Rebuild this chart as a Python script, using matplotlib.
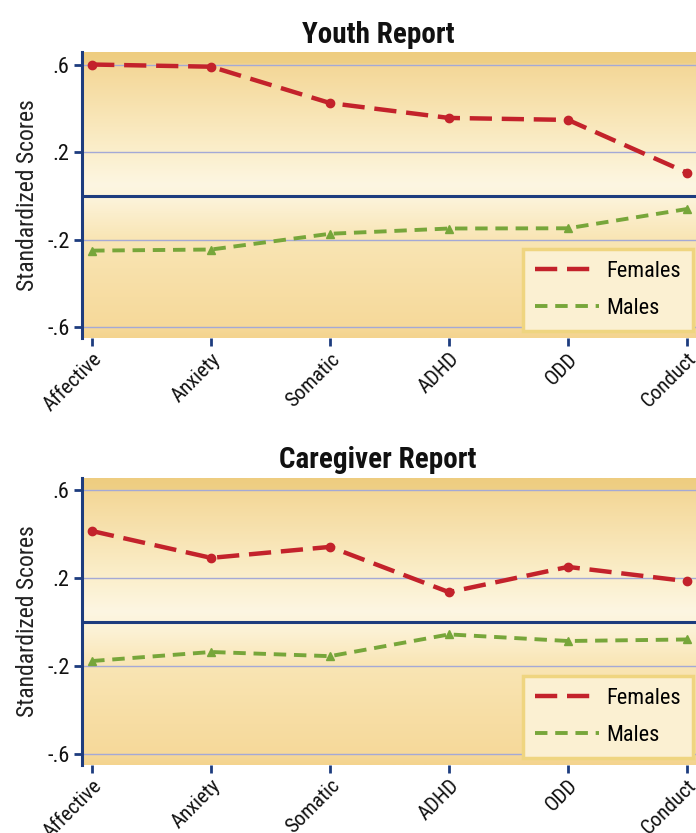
import numpy as np
import matplotlib
matplotlib.use("Agg")
import matplotlib.pyplot as plt
from matplotlib.colors import LinearSegmentedColormap
from matplotlib import font_manager

# look for a narrow font, fall back to something narrow-ish
names = set(f.name for f in font_manager.fontManager.ttflist)
narrow = [n for n in ['Liberation Sans Narrow', 'Roboto Condensed', 'Open Sans Condensed',
                      'Noto Sans Display', 'DejaVu Sans'] if n in names]
plt.rcParams['font.family'] = narrow + ['DejaVu Sans']
plt.rcParams['font.stretch'] = 'condensed'

categories = ['Affective', 'Anxiety', 'Somatic', 'ADHD', 'ODD', 'Conduct']
yticks = [0.6, 0.2, -0.2, -0.6]
ytick_labels = ['.6', '.2', '-.2', '-.6']

youth_females = [0.60, 0.59, 0.424, 0.356, 0.347, 0.106]
youth_males = [-0.25, -0.245, -0.173, -0.149, -0.148, -0.06]

care_females = [0.414, 0.292, 0.342, 0.136, 0.251, 0.186]
care_males = [-0.177, -0.136, -0.155, -0.056, -0.086, -0.079]

navy = '#1d3c7e'
red = '#c3222b'
green = '#77a63a'

bg = LinearSegmentedColormap.from_list('bg', [
    (0.0, '#f4d48f'), (0.038, '#f6d99a'), (0.345, '#f9e5b4'),
    (0.483, '#fcf3d9'), (0.536, '#fdf6e2'), (0.651, '#fbefcc'),
    (0.958, '#f4d797'), (0.965, '#efcf85'), (1.0, '#eecd80')])

fig = plt.figure(figsize=(6.96, 8.33), dpi=100)


def panel(rect, title, fem, mal):
    ax = fig.add_axes(rect)
    x = np.arange(len(categories))
    ylo, yhi = -0.65, 0.655
    ax.set_xlim(-0.084, 5.076)
    ax.set_ylim(ylo, yhi)
    grad = np.linspace(ylo, yhi, 400).reshape(-1, 1)
    ax.imshow(grad, cmap=bg, origin='lower', aspect='auto',
              extent=(-0.084, 5.076, ylo, yhi), zorder=0)
    for t in yticks:
        ax.axhline(t, color='#a4a9d6', lw=1, zorder=1)
    ax.axhline(0, color=navy, lw=2.2, zorder=2)
    ax.plot(x, fem, color=red, lw=3.2, dashes=(5, 2.2), marker='o', ms=6,
            label='Females', zorder=4)
    ax.plot(x, mal, color=green, lw=2.8, dashes=(3.2, 2), marker='^', ms=6,
            label='Males', zorder=3)
    for s in ['top', 'right', 'bottom']:
        ax.spines[s].set_visible(False)
    ax.spines['left'].set_color(navy)
    ax.spines['left'].set_linewidth(2.2)
    ax.set_yticks(yticks)
    ax.set_yticklabels(ytick_labels, fontsize=16)
    ax.set_xticks(x)
    ax.set_xticklabels(categories, rotation=45, ha='right',
                       rotation_mode='anchor', fontsize=15)
    ax.tick_params(axis='both', colors=navy, width=2, length=6,
                   direction='out', labelcolor='#111111')
    ax.tick_params(axis='x', pad=2)
    ax.tick_params(axis='y', pad=3)
    ax.set_ylabel('Standardized Scores', fontsize=17, color='#222222',
                  labelpad=6)
    ax.set_title(title, fontsize=21, fontweight='bold', pad=7,
                 x=0.482, color='#111111')
    leg = ax.legend(loc='lower right', bbox_to_anchor=(0.995, 0.025),
                    fontsize=16, handlelength=2.9, handletextpad=0.3,
                    fancybox=False, framealpha=1, borderpad=0.55,
                    labelspacing=0.7, borderaxespad=0)
    for h in leg.legend_handles:
        h.set_marker('')
    leg.get_frame().set_facecolor('#fbf0d2')
    leg.get_frame().set_edgecolor('#efd580')
    leg.get_frame().set_linewidth(2.5)
    return ax


panel([0.118, 0.594, 0.882, 0.343], 'Youth Report', youth_females, youth_males)
panel([0.118, 0.0816, 0.882, 0.3445], 'Caregiver Report', care_females, care_males)

fig.savefig('out.png', dpi=100)
